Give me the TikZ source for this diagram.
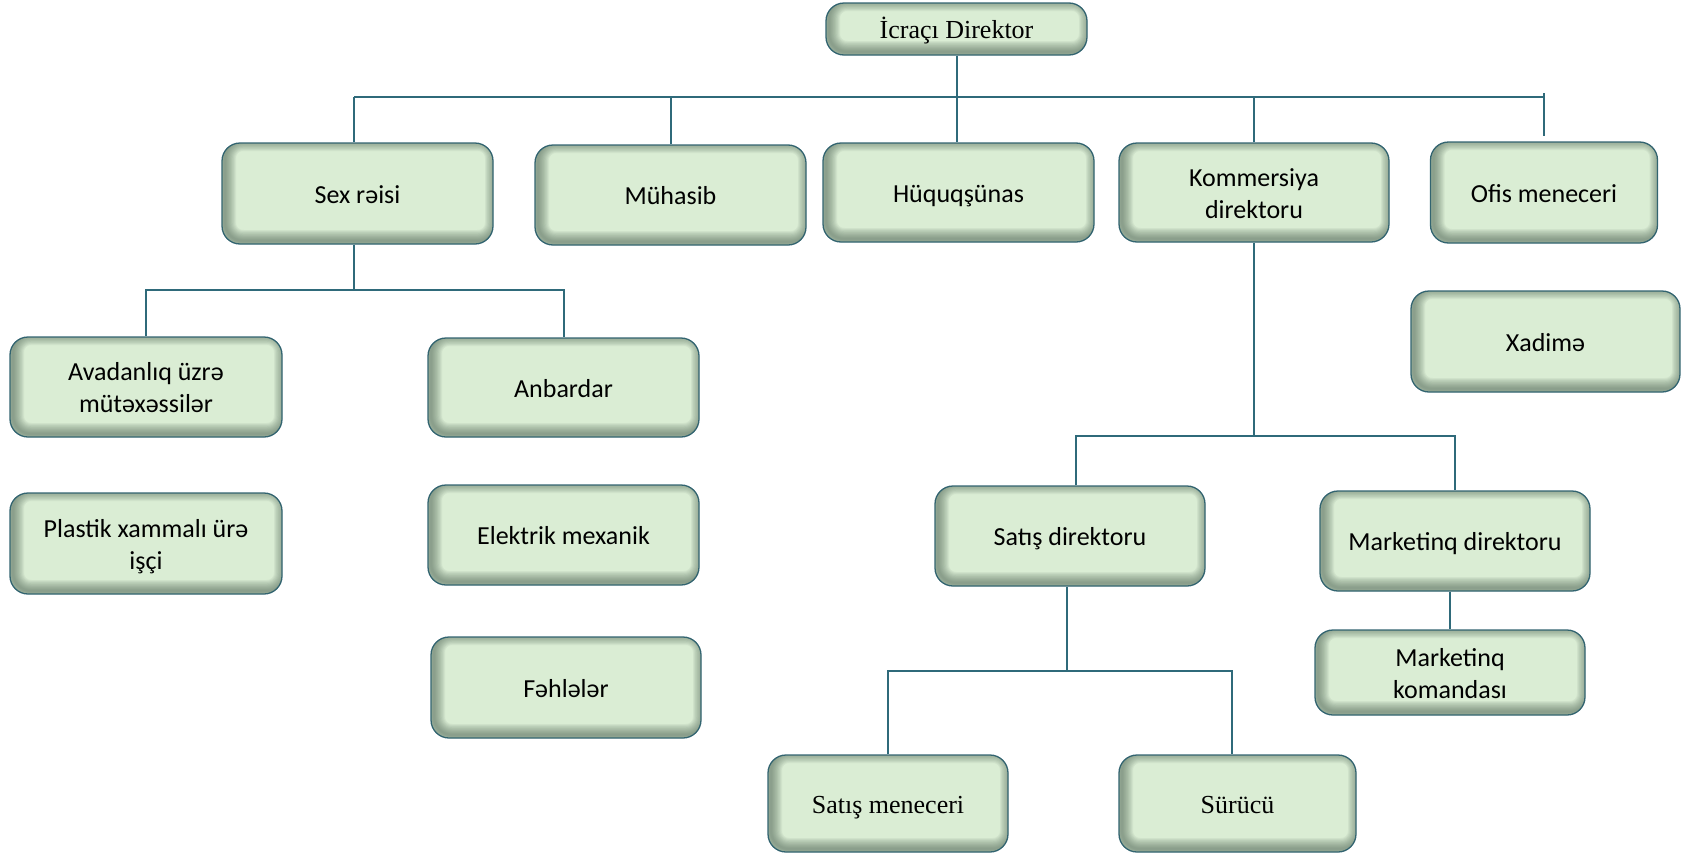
\documentclass[tikz,border=0pt]{standalone}
\usepackage{fontspec}
\setmainfont{Carlito}
\newfontfamily\tnr{Liberation Serif}
\definecolor{boxfill}{RGB}{218,237,212}
\definecolor{boxline}{RGB}{50,100,112}
\definecolor{conncol}{RGB}{47,106,122}
\definecolor{glow}{RGB}{82,104,88}
\newcommand\mystrut{\rule[-0.27em]{0pt}{\dimexpr1.22em+2pt\relax}}
\newcommand\twol[2]{\begin{tabular}{@{}c@{}}#1\rule{0pt}{29pt}\\#2\end{tabular}}
\tikzset{
  orgbox/.style={draw=boxline, line width=1.3pt, rounded corners=18pt, fill=boxfill,
    inner sep=0pt, font=\fontsize{26}{32}\selectfont,
    path picture={
      \foreach \k in {1,...,10}{
        \pgfmathsetmacro\lw{2.2*\k}
        \draw[draw=glow, opacity=0.08, line width=\lw pt, rounded corners=18pt]
          ([xshift=3pt,yshift=3pt]path picture bounding box.south west) rectangle ([xshift=3pt,yshift=3pt]path picture bounding box.north east);
      }
    }},
  serifbox/.style={orgbox, font=\tnr\fontsize{26}{32}\selectfont},
  conn/.style={draw=conncol, line width=2pt},
}
\begin{document}
\begin{tikzpicture}[x=1pt, y=-1pt]
\useasboundingbox (0,0) rectangle (1681,854);
\coordinate (bl) at (354,97);
\coordinate (br) at (1544,97);
\coordinate (j1) at (354,290);
\coordinate (j2) at (1254,436);
\coordinate (j3) at (1067,671);

% boxes
\node[serifbox, minimum width=261, minimum height=52] (ceo) at (956.5,29) {İcraçı Direktor\mystrut};
\node[orgbox, minimum width=271, minimum height=101] (sex) at (357.5,193.5) {Sex rəisi\mystrut};
\node[orgbox, minimum width=271, minimum height=100] (muh) at (670.5,195) {Mühasib\mystrut};
\node[orgbox, minimum width=271, minimum height=99] (huq) at (958.5,192.5) {Hüquqşünas\mystrut};
\node[orgbox, minimum width=270, minimum height=99] (kom) at (1254,192.5) {\twol{Kommersiya}{direktoru}};
\node[orgbox, minimum width=227, minimum height=101] (ofis) at (1544,192.5) {Ofis meneceri\mystrut};
\node[orgbox, minimum width=269, minimum height=101] (xad) at (1545.5,341.5) {Xadimə\mystrut};
\node[orgbox, minimum width=272, minimum height=100] (avad) at (146,387) {\twol{Avadanlıq üzrə}{mütəxəssilər}};
\node[orgbox, minimum width=272, minimum height=101] (plas) at (146,543.5) {\twol{Plastik xammalı ürə}{işçi}};
\node[orgbox, minimum width=271, minimum height=99] (anb) at (563.5,387.5) {Anbardar\mystrut};
\node[orgbox, minimum width=271, minimum height=100] (elek) at (563.5,535) {Elektrik mexanik\mystrut};
\node[orgbox, minimum width=270, minimum height=101] (feh) at (566,687.5) {Fəhlələr\mystrut};
\node[orgbox, minimum width=270, minimum height=100] (satd) at (1070,536) {Satış direktoru\mystrut};
\node[orgbox, minimum width=270, minimum height=100] (mark) at (1455,541) {Marketinq direktoru\mystrut};
\node[orgbox, minimum width=270, minimum height=85] (mkom) at (1450,672.5) {\twol{Marketinq}{komandası}};
\node[serifbox, minimum width=240, minimum height=97] (satm) at (888,803.5) {Satış meneceri\mystrut};
\node[serifbox, minimum width=237, minimum height=97] (sur) at (1237.5,803.5) {Sürücü\mystrut};

% top bus
\draw[conn] (bl) -- (br);
\draw[conn] (ceo.south) -- (ceo.south |- huq.north);
\draw[conn] (bl) -- (bl |- sex.north);
\draw[conn] (muh.north) -- (muh.north |- bl);
\draw[conn] (kom.north) -- (kom.north |- bl);
\draw[conn] ([yshift=4pt]ofis.north |- bl) -- ([yshift=5pt]ofis.north);

% Sex reisi branch
\draw[conn] (sex.south -| j1) -- (j1);
\draw[conn] (avad.north) |- (j1) -| (anb.north);

% Kommersiya branch
\draw[conn] (kom.south -| j2) -- (j2);
\draw[conn] ([xshift=6pt]satd.north) |- (j2) -| (mark.north);

% Satis direktoru branch
\draw[conn] (satd.south -| j3) -- (j3);
\draw[conn] (satm.north) |- (j3) -| ([xshift=-6pt]sur.north);

% Marketinq branch
\draw[conn] (mark.south -| mkom.north) -- (mkom.north);
\end{tikzpicture}
\end{document}
